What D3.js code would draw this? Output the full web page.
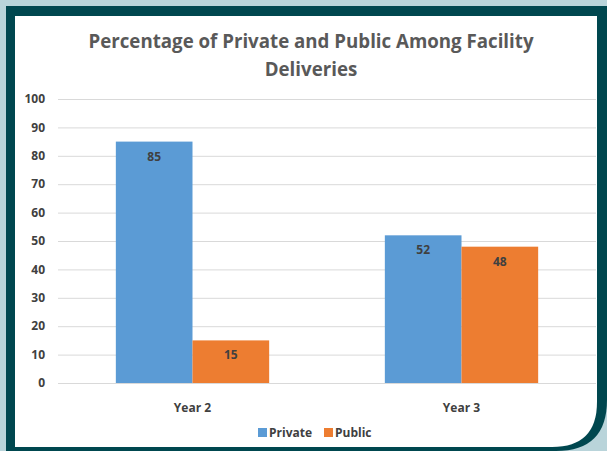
<!DOCTYPE html>
<html>
<head>
<meta charset="utf-8">
<script src="https://cdn.jsdelivr.net/npm/d3@7"></script>
<style>
  body { margin: 0; background: #b9d4da; }
  svg { display: block; }
  text { font-family: "Open Sans", "Noto Sans", sans-serif; font-weight: bold; }
</style>
</head>
<body>
<div id="graph-area"></div>
<script>
var categories = ["Year 2", "Year 3"];
var seriesNames = ["Private", "Public"];
var privateValues = [85, 52];
var publicValues = [15, 48];
var yTicks = [0, 10, 20, 30, 40, 50, 60, 70, 80, 90, 100];

var colors = { Private: "#5b9bd5", Public: "#ed7d31" };
var width = 607, height = 451;

var svg = d3.select('#graph-area')
  .append('svg')
  .attr('width', width)
  .attr('height', height);

// frame: teal outer box with rounded bottom-right, white inner panel
svg.append('path')
  .attr('fill', '#00474f')
  .attr('d', 'M6,6 H607 V400 Q607,451 556,451 H6 Z');
svg.append('path')
  .attr('fill', '#ffffff')
  .attr('d', 'M15,16 H597 V402 Q597,447 552,447 H15 Z');

var plot = { left: 58, right: 596, top: 99, bottom: 383 };

var x0 = d3.scaleBand()
  .domain(categories)
  .range([plot.left, plot.right]);
var groupW = x0.bandwidth() * 0.57;
var x1 = d3.scaleBand()
  .domain(seriesNames)
  .range([(x0.bandwidth() - groupW) / 2, (x0.bandwidth() + groupW) / 2]);
var y = d3.scaleLinear()
  .domain([0, 100])
  .range([plot.bottom, plot.top]);

// gridlines
svg.append('g')
  .selectAll('line')
  .data(yTicks)
  .enter().append('line')
  .attr('x1', plot.left)
  .attr('x2', plot.right)
  .attr('y1', function(d){ return y(d) + 0.5; })
  .attr('y2', function(d){ return y(d) + 0.5; })
  .attr('stroke', '#d9d9d9')
  .attr('stroke-width', 1);

// y tick labels
svg.append('g')
  .selectAll('text')
  .data(yTicks)
  .enter().append('text')
  .attr('x', 45)
  .attr('y', function(d){ return y(d); })
  .attr('dy', '0.35em')
  .attr('text-anchor', 'end')
  .attr('font-size', 12)
  .attr('fill', '#404040')
  .text(function(d){ return d; });

var rows = categories.map(function(c, i){
  return { cat: c, values: [
    { key: "Private", value: privateValues[i] },
    { key: "Public", value: publicValues[i] }
  ]};
});

var groups = svg.append('g')
  .selectAll('g')
  .data(rows)
  .enter().append('g')
  .attr('transform', function(d){ return 'translate(' + x0(d.cat) + ',0)'; });

groups.selectAll('rect')
  .data(function(d){ return d.values; })
  .enter().append('rect')
  .attr('x', function(d){ return x1(d.key); })
  .attr('width', x1.bandwidth())
  .attr('y', function(d){ return y(d.value); })
  .attr('height', function(d){ return y(0) - y(d.value); })
  .attr('fill', function(d){ return colors[d.key]; });

groups.selectAll('.val')
  .data(function(d){ return d.values; })
  .enter().append('text')
  .attr('class', 'val')
  .attr('x', function(d){ return x1(d.key) + x1.bandwidth() / 2; })
  .attr('y', function(d){ return y(d.value) + 19; })
  .attr('text-anchor', 'middle')
  .attr('font-size', 12)
  .attr('fill', '#404040')
  .text(function(d){ return d.value; });

// category labels
svg.append('g')
  .selectAll('text')
  .data(categories)
  .enter().append('text')
  .attr('x', function(d){ return x0(d) + x0.bandwidth() / 2; })
  .attr('y', 412)
  .attr('text-anchor', 'middle')
  .attr('font-size', 12)
  .attr('fill', '#404040')
  .text(function(d){ return d; });

// title
var title = svg.append('text')
  .attr('x', 311)
  .attr('text-anchor', 'middle')
  .attr('font-size', 18.7)
  .attr('fill', '#595959');
title.append('tspan').attr('x', 311).attr('y', 48).text('Percentage of Private and Public Among Facility');
title.append('tspan').attr('x', 311).attr('y', 76).text('Deliveries');

// legend
var legend = svg.append('g').attr('transform', 'translate(258,433)');
var legendX = [0, 66];
seriesNames.forEach(function(s, i){
  legend.append('rect')
    .attr('x', legendX[i])
    .attr('y', -5)
    .attr('width', 9)
    .attr('height', 9)
    .attr('fill', colors[s]);
  legend.append('text')
    .attr('x', legendX[i] + 11)
    .attr('y', 0)
    .attr('dy', '0.35em')
    .attr('font-size', 12)
    .attr('fill', '#404040')
    .text(s);
});
</script>
</body>
</html>
